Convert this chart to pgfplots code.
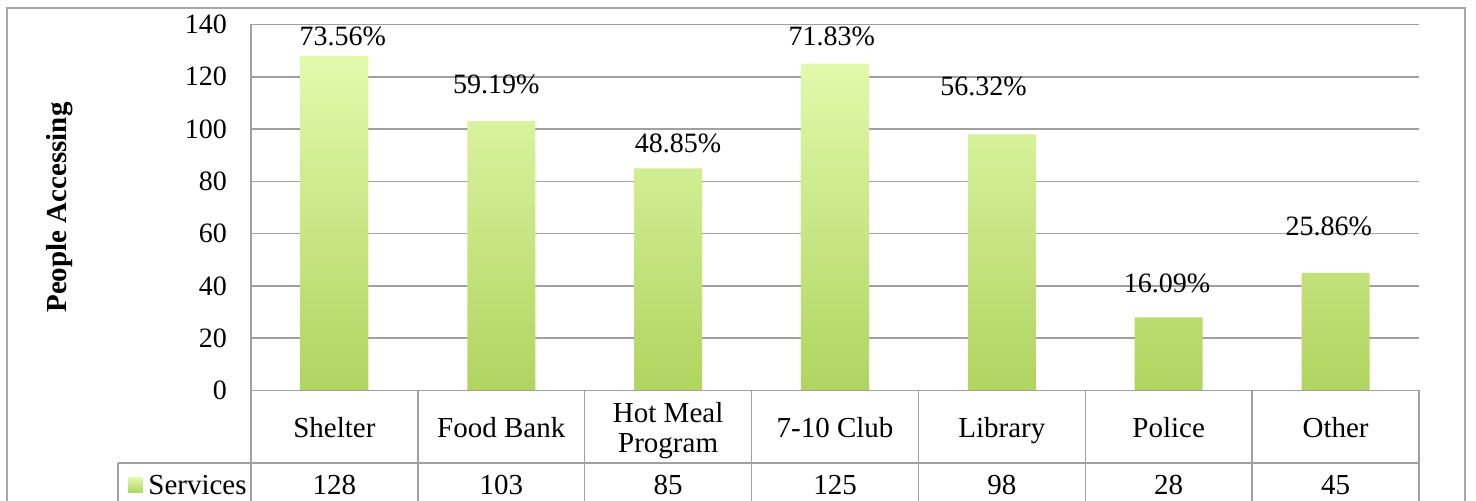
\documentclass[border=0pt]{standalone}
\usepackage{pgfplots}
\pgfplotsset{compat=1.18}
\usepackage{fontspec}
\setmainfont{Liberation Serif}

\definecolor{gridgray}{HTML}{A0A0A0}
\definecolor{framegray}{HTML}{A6A6A6}
\definecolor{bartop}{HTML}{E2FAAC}
\definecolor{barbot}{HTML}{B0D460}
\newcommand{\chartfont}{\fontsize{14}{15}\selectfont}
\newcommand{\tablefont}{\fontsize{14.5}{15}\selectfont}

\begin{document}
\begin{tikzpicture}
\clip (-125.5pt,-55.25pt) rectangle (612.5pt,195.25pt);
% outer chart frame
\draw[framegray, line width=1pt] (-122pt,-70pt) rectangle (607pt,191.25pt);

\begin{axis}[
    at={(0pt,0pt)}, anchor=south west,
    width=584pt, height=183pt, scale only axis,
    xmin=-0.5, xmax=6.5, ymin=0, ymax=140,
    ytick={0,20,...,140}, xtick=\empty,
    ymajorgrids, major grid style={gridgray, line width=0.75pt},
    axis line style={draw=none}, tick style={draw=none},
    /pgf/number format/assume math mode=true,
    yticklabel style={font=\chartfont, xshift=-8.5pt},
    ylabel={\textbf{People Accessing}},
    ylabel style={font=\fontsize{14.5}{15}\selectfont, at={(axis description cs:-0.1635,0.5)}, anchor=center},
    clip=false
]
\addplot[ybar, bar width=34pt, draw=none, top color=bartop, bottom color=barbot]
    coordinates {(0,128) (1,103) (2,85) (3,125) (4,98) (5,28) (6,45)};

% percentage labels (placed by hand, as in the original)
\node[font=\chartfont] at (axis cs:0.05,135.3) {73.56\%};
\node[font=\chartfont] at (axis cs:0.97,116.9) {59.19\%};
\node[font=\chartfont] at (axis cs:2.06,94.7) {48.85\%};
\node[font=\chartfont] at (axis cs:2.98,135.3) {71.83\%};
\node[font=\chartfont] at (axis cs:3.89,116.2) {56.32\%};
\node[font=\chartfont] at (axis cs:4.99,41.1) {16.09\%};
\node[font=\chartfont] at (axis cs:5.96,62.7) {25.86\%};
\end{axis}

% data table below the plot
\begin{scope}[gridgray, line width=0.75pt]
  \draw (0pt,0pt) -- (0pt,183pt);
  \draw (0pt,0pt) -- (584pt,0pt);
  \draw (-66.5pt,-36.25pt) -- (584pt,-36.25pt);
  \draw (-66.5pt,-36.25pt) -- (-66.5pt,-70pt);
  \foreach \i in {0,...,7} \draw (\i*83.4286pt,0pt) -- (\i*83.4286pt,-70pt);
\end{scope}

\foreach \lab [count=\i from 0] in {Shelter,Food Bank,,7-10 Club,Library,Police,Other}
  \node[font=\tablefont, anchor=base] at ({(\i+0.5)*83.4286pt},-23.75pt) {\lab};
\node[font=\tablefont, anchor=base] at ({2.5*83.4286pt},-16.1pt) {Hot Meal};
\node[font=\tablefont, anchor=base] at ({2.5*83.4286pt},-31.1pt) {Program};
\foreach \val [count=\i from 0] in {128,103,85,125,98,28,45}
  \node[font=\tablefont, anchor=base] at ({(\i+0.5)*83.4286pt},-52.25pt) {\val};

\shade[top color=bartop, bottom color=barbot] (-61.5pt,-51pt) rectangle (-54pt,-43.5pt);
\node[font=\tablefont, anchor=base west, inner sep=0pt] at (-51.5pt,-52.25pt) {Services};
\end{tikzpicture}
\end{document}
